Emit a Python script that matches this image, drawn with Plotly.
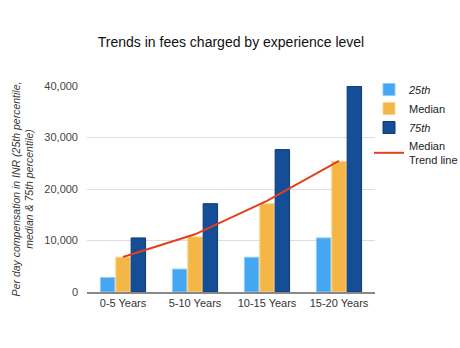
import plotly.graph_objects as go

categories = ["0-5 Years", "5-10 Years", "10-15 Years", "15-20 Years"]
p25 = [2800, 4450, 6750, 10500]
median = [6750, 10700, 17150, 25350]
p75 = [10500, 17150, 27650, 40000]
trend = [6800, 11200, 17700, 25450]
y_ticks = [0, 10000, 20000, 30000, 40000]
y_tick_labels = ["0", "10,000", "20,000", "30,000", "40,000"]

font_fam = "Liberation Sans, Arial, sans-serif"

fig = go.Figure()
fig.add_trace(go.Bar(x=categories, y=p25, name="<i>25th</i>",
                     marker=dict(color="#45A7F2", line=dict(color="#8CCBF7", width=1))))
fig.add_trace(go.Bar(x=categories, y=median, name="Median",
                     marker=dict(color="#F4B747", line=dict(color="#F8D48F", width=1))))
fig.add_trace(go.Bar(x=categories, y=p75, name="<i>75th</i>",
                     marker=dict(color="#154E96", line=dict(color="#0E3A72", width=1))))
fig.add_trace(go.Scatter(x=categories, y=trend, name="Median<br>Trend line", mode="lines",
                         line=dict(color="#E2401B", width=2)))

fig.update_layout(
    width=460, height=348,
    margin=dict(l=87, r=85, t=86, b=56, autoexpand=False),
    paper_bgcolor="white", plot_bgcolor="white",
    font=dict(family=font_fam, size=11, color="#444"),
    title=dict(text="Trends in fees charged by experience level", x=0.5, xanchor="center",
               xref="paper",
               y=1 - 42/348, yanchor="middle",
               font=dict(family="Liberation Sans, Arial, sans-serif", size=14, color="#111")),
    barmode="group", bargap=0.36, bargroupgap=0.06,
    showlegend=True,
    legend=dict(xref="container", yref="container", x=369/460, y=1 - 75/348,
                xanchor="left", yanchor="top", itemwidth=30,
                font=dict(size=11, color="#222"), tracegroupgap=0,
                bgcolor="rgba(0,0,0,0)"),
    xaxis=dict(showgrid=False, showline=True, linecolor="#888", linewidth=2,
               tickfont=dict(size=11, color="#333"), ticks=""),
    yaxis=dict(range=[0, 40000], tickvals=y_ticks, ticktext=y_tick_labels,
               showgrid=True, gridcolor="#DDDDDD", gridwidth=1, zeroline=False,
               tickfont=dict(size=11, color="#444"), ticks="", ticklabelstandoff=8,
               title=dict(text="<i>Per day compensation in INR (25th percentile,<br>median &amp; 75th percentile)</i>",
                          font=dict(size=10.5, color="#333"), standoff=8)),
)

fig.write_html("out.html")
